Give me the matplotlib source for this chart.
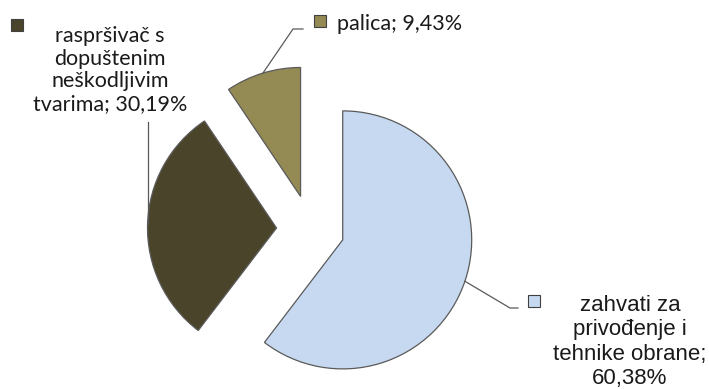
import numpy as np
import matplotlib
matplotlib.use("Agg")
import matplotlib.pyplot as plt

# ---- data ----
categories = ["zahvati za\nprivođenje i\ntehnike obrane;", "raspršivač s\ndopuštenim\nneškodljivim\ntvarima;", "palica;"]
values = [60.38, 30.19, 9.43]
label_texts = ["zahvati za\nprivođenje i\ntehnike obrane;\n60,38%",
               "raspršivač s\ndopuštenim\nneškodljivim\ntvarima; 30,19%",
               "palica; 9,43%"]
colors = ["#C6D9F1", "#4A452A", "#948A54"]

W, H = 709, 389
fig = plt.figure(figsize=(W / 100, H / 100), dpi=100)
ax = fig.add_axes([0, 0, 1, 1])

R = 129
C = (310.5, H - 229)
explode = [34, 34, 34]
wedges, _ = ax.pie(values, colors=colors, startangle=90, counterclock=False,
                   radius=R, center=C, explode=explode,
                   wedgeprops=dict(edgecolor="#5a5a5a", linewidth=0.9))
ax.set_xlim(0, W)
ax.set_ylim(0, H)
ax.set_aspect("equal")
ax.axis("off")


def arc_mid(w):
    t = np.deg2rad(0.5 * (w.theta1 + w.theta2))
    return w.center[0] + w.r * np.cos(t), w.center[1] + w.r * np.sin(t)

lc = "#595959"
# blue label
bx, by = arc_mid(wedges[0])
ax.plot([bx, 510, 518], [by, H - 308, H - 308], color=lc, lw=0.9)
ax.plot([534], [H - 301], marker="s", ms=8.5, mfc=colors[0], mec="#404040", mew=0.8)
ax.text(630, H - 342, label_texts[0], ha="center", va="center",
        fontsize=16, family="Liberation Sans", color="#1a1a1a", linespacing=1.2)

# dark label
dx, dy = arc_mid(wedges[1])
ax.plot([dx, dx], [dy, H - 122], color=lc, lw=0.9)
ax.plot([17], [H - 24.5], marker="s", ms=8.5, mfc=colors[1], mec="#404040", mew=0.8)
ax.text(110, H - 70, label_texts[1], ha="center", va="center",
        fontsize=15.5, family="Lato", color="#1a1a1a", linespacing=1.15)

# olive label
ox, oy = arc_mid(wedges[2])
ax.plot([ox, 293, 303], [oy, H - 29, H - 29], color=lc, lw=0.9)
ax.plot([320], [H - 21], marker="s", ms=8.5, mfc=colors[2], mec="#404040", mew=0.8)
ax.text(337, H - 30, label_texts[2], ha="left", va="baseline",
        fontsize=15.5, family="Lato", color="#1a1a1a")

fig.savefig("out.png", dpi=100)
